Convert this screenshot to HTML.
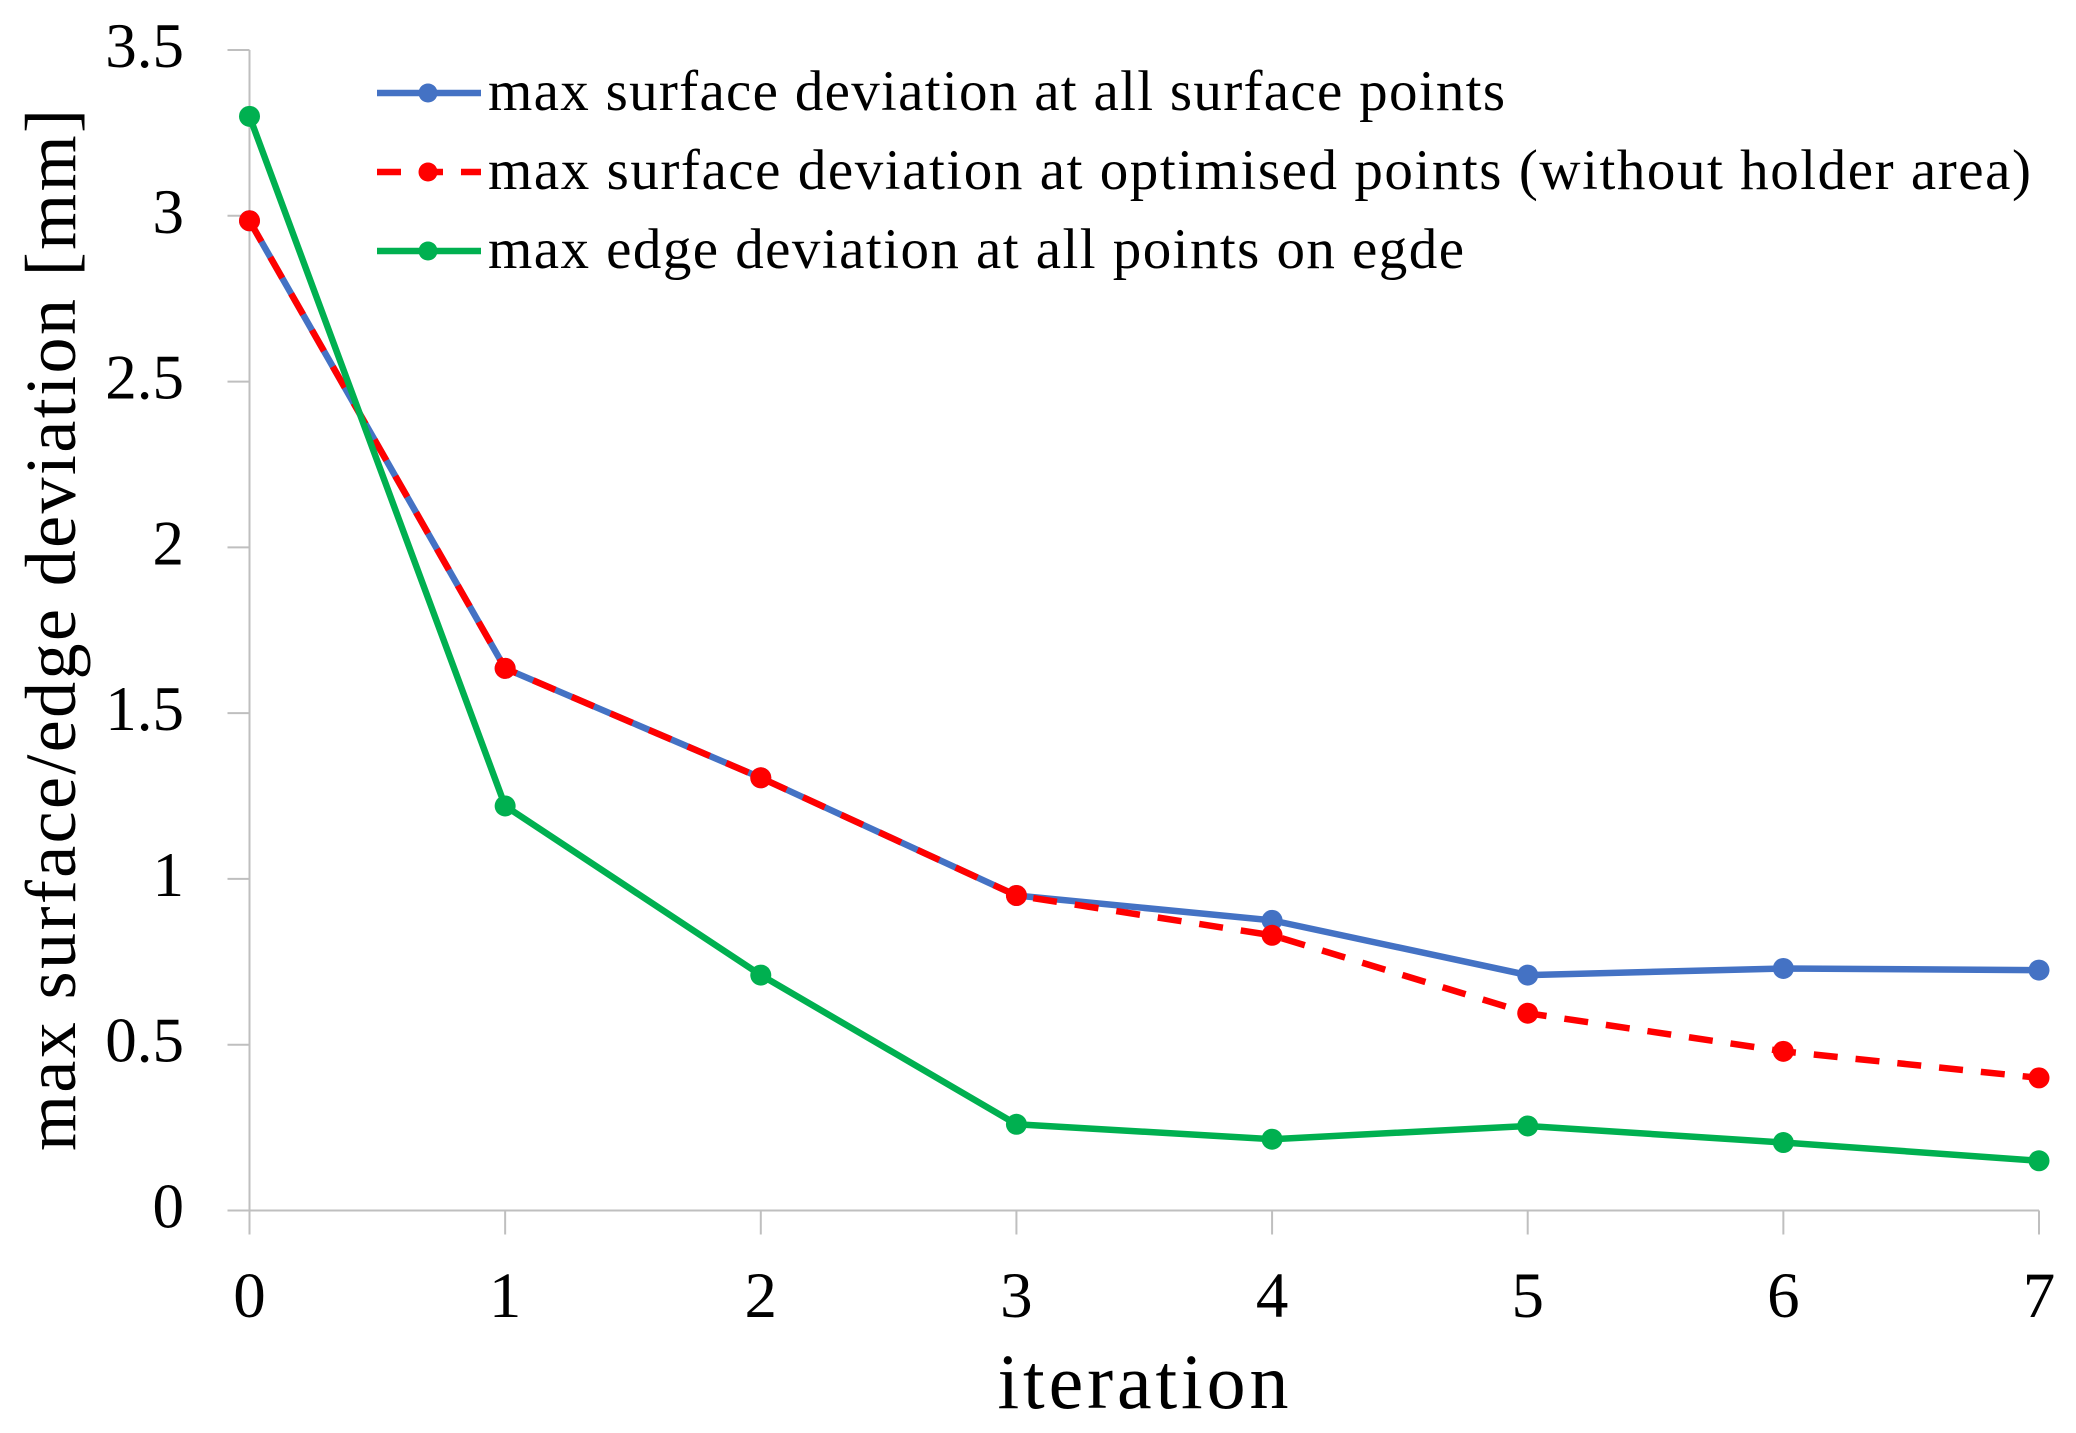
<!DOCTYPE html>
<html lang="en">
<head>
<meta charset="utf-8">
<title>Max surface and edge deviation per iteration</title>
<style>
html,body{margin:0;padding:0;background:#fff;width:2076px;height:1433px;overflow:hidden}
svg{display:block}
text{font-family:"Liberation Serif","DejaVu Serif",serif;fill:#000}
</style>
</head>
<body>
<svg id="chart" xmlns="http://www.w3.org/2000/svg" width="2076" height="1433" viewBox="0 0 2076 1433">
<rect x="0" y="0" width="2076" height="1433" fill="#fff"/>
<g id="axes"></g>
<g id="series"></g>
<g id="legend"></g>
<text transform="translate(75,630) rotate(-90)" text-anchor="middle" font-size="72" textLength="1042" lengthAdjust="spacing">max surface/edge deviation [mm]</text>
<text x="1143" y="1408" text-anchor="middle" font-size="78" textLength="291" lengthAdjust="spacing">iteration</text>
</svg>
<script>
const categories = [0, 1, 2, 3, 4, 5, 6, 7];
const yTicks = [0, 0.5, 1, 1.5, 2, 2.5, 3, 3.5];
const allSurface = [2.985, 1.635, 1.305, 0.95, 0.875, 0.71, 0.73, 0.725];
const optimisedSurface = [2.985, 1.635, 1.305, 0.95, 0.83, 0.595, 0.48, 0.40];
const edgeDeviation = [3.30, 1.22, 0.71, 0.26, 0.215, 0.255, 0.205, 0.15];
const allSurfaceLabel = "max surface deviation at all surface points";
const optimisedSurfaceLabel = "max surface deviation at optimised points (without holder area)";
const edgeDeviationLabel = "max edge deviation at all points on egde";

const NS = "http://www.w3.org/2000/svg";
const plot = {left: 249.5, right: 2039, top: 50, bottom: 1210.5};
const xMin = categories[0], xMax = categories[categories.length - 1];
const yMax = yTicks[yTicks.length - 1];
function xScale(v) { return plot.left + (v - xMin) / (xMax - xMin) * (plot.right - plot.left); }
function yScale(v) { return plot.bottom - v / yMax * (plot.bottom - plot.top); }
function make(tag, attrs, parent) {
  const el = document.createElementNS(NS, tag);
  for (const k in attrs) el.setAttribute(k, attrs[k]);
  parent.appendChild(el);
  return el;
}
const axes = document.getElementById("axes");
const seriesGroup = document.getElementById("series");
const legend = document.getElementById("legend");
const axisColor = "#bfbfbf";

const yLine = make("line", {x1: plot.left, x2: plot.left, y1: plot.top, y2: plot.bottom, stroke: axisColor, "stroke-width": 2}, axes);


const xLine = make("line", {x1: plot.left - 22, x2: plot.right, y1: plot.bottom, y2: plot.bottom, stroke: axisColor, "stroke-width": 2}, axes);



yTicks.forEach(function (t) {
  const y = yScale(t);
  const tick = make("line", {x1: plot.left - 22, x2: plot.left, y1: y, y2: y, stroke: axisColor, "stroke-width": 2}, axes);
  
  
  const label = make("text", {x: 184, y: y + 17, "text-anchor": "end", "font-size": 63}, axes);
  
  
  label.textContent = String(t);
});
categories.forEach(function (c) {
  const x = xScale(c);
  const tick = make("line", {x1: x, x2: x, y1: plot.bottom, y2: plot.bottom + 24, stroke: axisColor, "stroke-width": 2}, axes);
  
  
  const label = make("text", {x: x, y: 1317, "text-anchor": "middle", "font-size": 65}, axes);
  
  
  label.textContent = String(c);
});

function drawSeries(values, color, dash, name) {
  const g = make("g", {}, seriesGroup);
  
  
  const pts = values.map(function (v, i) { return xScale(categories[i]) + "," + yScale(v); }).join(" ");
  const attrs = {points: pts, fill: "none", stroke: color, "stroke-width": 6.5, "stroke-linejoin": "round"};
  if (dash) attrs["stroke-dasharray"] = dash;
  const line = make("polyline", attrs, g);
  
  
  values.forEach(function (v, i) {
    const dot = make("circle", {cx: xScale(categories[i]), cy: yScale(v), r: 10.5, fill: color}, g);
    
    
  });
}
drawSeries(allSurface, "#4472c4", null, "series-all-surface");
drawSeries(optimisedSurface, "#ff0000", "24 18", "series-optimised-surface");
drawSeries(edgeDeviation, "#00b050", null, "series-edge");

function drawLegendEntry(y, color, dash, text, textWidth, name) {
  const g = make("g", {}, legend);
  
  
  const attrs = {x1: 377, x2: 481, y1: y, y2: y, stroke: color, "stroke-width": 6.5};
  if (dash) attrs["stroke-dasharray"] = dash;
  const line = make("line", attrs, g);
  
  
  const dot = make("circle", {cx: 428, cy: y, r: 9.5, fill: color}, g);
  
  
  const label = make("text", {x: 488, y: y + 17, "font-size": 57, textLength: textWidth, lengthAdjust: "spacing"}, g);
  
  
  label.textContent = text;
}
drawLegendEntry(93, "#4472c4", null, allSurfaceLabel, 1017, "legend-all-surface");
drawLegendEntry(172, "#ff0000", "24 18", optimisedSurfaceLabel, 1543, "legend-optimised-surface");
drawLegendEntry(251, "#00b050", null, edgeDeviationLabel, 976, "legend-edge");
</script>
</body>
</html>
